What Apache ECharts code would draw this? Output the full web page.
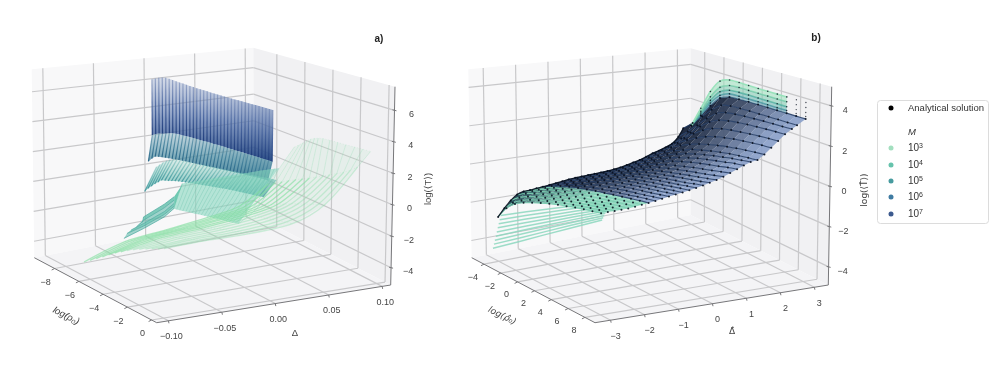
<!DOCTYPE html>
<html><head><meta charset="utf-8">
<style>html,body{margin:0;background:#fff}#c{width:1000px;height:373px;filter:blur(.45px)}</style>
<script src="https://cdn.jsdelivr.net/npm/echarts@6/dist/echarts.min.js"></script></head>
<body><div id="c"></div>
<script>
// ---------- panel a values (axis units) ----------
const aRhoTicks=[-8,-6,-4,-2,0], aDeltaTicks=[-0.10,-0.05,0,0.05,0.10], aTTicks=[-4,-2,0,2,4,6];
const bRhoTicks=[-4,-2,0,2,4,6,8], bDeltaTicks=[-3,-2,-1,0,1,2,3], bTTicks=[-4,-2,0,2,4];
const massExp=['3','4','5','6','7'];
const rhoA=[-9.1,-8.84,-8.58,-8.32,-8.06,-7.8,-7.54,-7.28,-7.02,-6.76,-6.5,-6.24,-5.98,-5.72,-5.46,-5.2,-4.94,-4.68,-4.42,-4.16,-3.9,-3.64,-3.38,-3.12,-2.86,-2.6,-2.34,-2.08,-1.82,-1.56,-1.3,-1.04,-.78,-.52,-.26,0];
const m7Top=[6.18,6.3,6.42,6.5,6.55,6.55,6.54,6.52,6.5,6.5,6.48,6.47,6.46,6.45,6.45,6.44,6.44,6.43,6.43,6.43,6.43,6.43,6.43,6.43,6.43,6.44,6.44,6.44,6.44,6.44,6.45,6.45,6.45,6.45,6.45,6.45];
const m7Bot=[2.26,2.42,2.55,2.62,2.72,2.82,2.9,2.95,2.98,3.0,3.02,3.05,3.07,3.09,3.1,3.12,3.14,3.15,3.16,3.18,3.19,3.2,3.21,3.22,3.23,3.24,3.25,3.26,3.27,3.28,3.29,3.3,3.3,3.31,3.32,3.32];
const m6Bot=[.45,.75,.98,1.06,1.12,1.18,1.23,1.28,1.33,1.38,1.42,1.46,1.49,1.53,1.57,1.6,1.64,1.67,1.71,1.75,1.78,1.82,1.85,1.89,1.92,1.95,1.98,2.01,2.04,2.07,2.1,2.13,2.16,2.19,2.21,2.23];
const m5Bot=[-1.61,-1.3,-1.03,-.78,-.55,-.33,-.25,-.17,-.09,0,.08,.14,.2,.26,.32,.38,.43,.48,.54,.59,.64,.69,.74,.79,.84,.88,.92,.96,1,1.03,1.07,1.1,1.14,1.17,1.21,1.24];
const m5Top=[-.01,.25,.5,.7,.87,1.0,1.06,1.11,1.16,1.2,1.24,1.27,1.31,1.36,1.4,1.44,1.48,1.52,1.56,1.6,1.64,1.68,1.71,1.75,1.79,1.83,1.86,1.9,1.94,1.98,2.01,2.05,2.09,2.13,2.16,2.19];
const rhoM4=[-5.1,-4.86,-4.62,-4.38,-4.14,-3.9,-3.66,-3.42,-3.18,-2.94,-2.7,-2.46,-2.22,-1.98,-1.74,-1.5,-1.26,-1.02,-.78,-.54,-.3,-.06];
const m4Bot=[-1,-.96,-.92,-.88,-.84,-.8,-.76,-.72,-.68,-.64,-.6,-.57,-.54,-.5,-.47,-.43,-.4,-.36,-.33,-.29,-.25,-.21];
const m4Mid=[-.07,-.02,.03,.08,.13,.18,.23,.28,.33,.38,.42,.46,.49,.52,.55,.58,.61,.63,.66,.69,.72,.76];
const m4Top=[.56,.68,.79,.9,1.02,1.13,1.25,1.36,1.47,1.58,1.7,1.81,1.92,2.03,2.14,2.25,2.36,2.47,2.57,2.67,2.77,2.86];
const m4MidD=[-.025,-.0245,-.024,-.0235,-.023,-.0225,-.022,-.0215,-.021,-.0205,-.02,-.0195,-.019,-.018,-.017,-.016,-.015,-.014,-.013,-.012,-.011,-.01];
const m4TopD=[-.022,-.0205,-.019,-.0176,-.0162,-.0148,-.0134,-.012,-.0106,-.0092,-.008,-.0066,-.0052,-.0038,-.0024,-.001,.0004,.0018,.0032,.0046,.006,.007];
const wingStartD=[-.078,-.075,-.071,-.066,-.06], wingD=[-.059,-.039,-.0295];
const wingT=[[-2.41,-1.98,-1.44,-.98],[-2.13,-1.82,-1.28,-.84],[-1.95,-1.66,-1.1,-.66],[-1.81,-1.45,-.85,-.45],[-1.57,-1.24,-.62,-.23]];
const rhoM3=[-6.5,-6,-5.5,-5,-4.5,-4,-3.5,-3,-2.5,-2,-1.5,-1,-.5,0];
const m3D=[-.10,-.06,-.02,.02,.05,.08];
const m3End=[.105,.103,.1,.097,.094,.091,.088,.086,.086,.087,.088,.09,.091,.092];
const m3T=[
[-4.2,-3.35,-3.02,-2.66,-2.28,-.99,1.34],[-3.9,-3.1,-2.78,-2.44,-2.05,-.72,1.7],[-3.6,-2.85,-2.55,-2.2,-1.82,-.45,2.05],
[-3.3,-2.6,-2.32,-1.98,-1.58,-.18,2.4],[-3,-2.36,-2.1,-1.76,-1.35,.08,2.7],[-2.7,-2.14,-1.9,-1.56,-1.12,.32,2.95],
[-2.45,-1.95,-1.72,-1.38,-.9,.56,3.15],[-2.2,-1.77,-1.56,-1.22,-.7,.8,3.3],[-1.98,-1.61,-1.42,-1.08,-.5,1.05,3.35],
[-1.78,-1.47,-1.3,-.97,-.32,1.3,3.35],[-1.6,-1.34,-1.19,-.86,-.15,1.55,3.35],[-1.43,-1.2,-1.08,-.77,.01,1.8,3.35],
[-1.26,-1.07,-.97,-.68,.17,2.1,3.36],[-1.1,-.94,-.87,-.6,.33,2.45,3.36]];
// ---------- panel b values (axis units) ----------
const bRho=[-4,-3,-2,-1,0,1,2,3,4,5,6,7,8];
const bDelta=[-3,-2.8,-2.6,-2.4,-2.2,-2,-1.8,-1.6,-1.4,-1.2,-1,-.8,-.6,-.4,-.2,0,.2,.4,.6,.8,1,1.2,1.4,1.6,1.8,2,2.2,2.4,2.6,2.75,3];
const bT=[
[-2.6,-1.95,-1.55,-1.3,-1.12,-.96,-.82,-.7,-.6,-.5,-.42,-.35,-.28],
[-2.2,-1.72,-1.42,-1.2,-1.04,-.9,-.78,-.67,-.57,-.48,-.4,-.33,-.27],
[-1.85,-1.5,-1.27,-1.1,-.96,-.84,-.73,-.63,-.54,-.46,-.38,-.31,-.25],
[-1.6,-1.35,-1.16,-1.02,-.9,-.79,-.69,-.6,-.51,-.43,-.36,-.29,-.23],
[-1.49,-1.27,-1.1,-.96,-.85,-.74,-.65,-.56,-.48,-.4,-.33,-.26,-.21],
[-1.47,-1.24,-1.06,-.92,-.8,-.7,-.6,-.51,-.43,-.36,-.29,-.22,-.17],
[-1.43,-1.2,-1.02,-.88,-.75,-.65,-.55,-.47,-.39,-.32,-.25,-.17,-.12],
[-1.4,-1.16,-.98,-.83,-.7,-.6,-.5,-.42,-.34,-.26,-.19,-.12,-.07],
[-1.36,-1.12,-.94,-.79,-.66,-.55,-.46,-.37,-.29,-.22,-.14,-.07,-.01],
[-1.32,-1.08,-.89,-.74,-.61,-.49,-.4,-.31,-.23,-.16,-.09,-.01,.05],
[-1.27,-1.03,-.84,-.69,-.55,-.43,-.34,-.25,-.17,-.1,-.03,.05,.12],
[-1.22,-.98,-.8,-.64,-.5,-.38,-.28,-.19,-.11,-.04,.03,.11,.18],
[-1.19,-.95,-.76,-.6,-.46,-.33,-.23,-.14,-.05,.02,.09,.17,.24],
[-1.17,-.93,-.73,-.56,-.42,-.29,-.18,-.09,0,.08,.16,.24,.31],
[-1.15,-.9,-.7,-.52,-.38,-.24,-.13,-.03,.06,.14,.22,.31,.38],
[-1.13,-.87,-.66,-.48,-.33,-.19,-.08,.03,.12,.2,.28,.38,.46],
[-1.11,-.84,-.62,-.43,-.27,-.13,-.01,.09,.2,.29,.37,.46,.56],
[-1.09,-.81,-.58,-.38,-.21,-.06,.06,.18,.28,.38,.47,.56,.66],
[-1.05,-.76,-.52,-.31,-.13,.03,.16,.29,.39,.49,.58,.68,.78],
[-1,-.69,-.44,-.22,-.04,.13,.27,.4,.52,.62,.72,.82,.92],
[-.92,-.6,-.34,-.1,.08,.27,.43,.57,.69,.79,.89,.99,1.07],
[-.83,-.5,-.23,.02,.22,.42,.58,.74,.85,.95,1.05,1.15,1.22],
[-.75,-.38,-.1,.16,.37,.58,.74,.88,1,1.1,1.2,1.28,1.35],
[-.62,-.25,.05,.32,.54,.76,.9,1.03,1.14,1.23,1.3,1.36,1.41],
[-.48,-.08,.25,.55,.8,1,1.15,1.28,1.38,1.47,1.54,1.6,1.65],
[-.38,.05,.45,.8,1.1,1.35,1.52,1.64,1.74,1.81,1.87,1.92,1.95],
[-.25,.22,.68,1.1,1.48,1.74,1.9,2,2.07,2.13,2.18,2.22,2.25],
[-.1,.4,.92,1.45,1.88,2.15,2.28,2.36,2.42,2.46,2.5,2.53,2.55],
[.25,.75,1.3,1.85,2.3,2.52,2.6,2.65,2.69,2.72,2.74,2.76,2.78],
[.7,1.2,1.75,2.3,2.72,2.85,2.88,2.9,2.91,2.92,2.93,2.94,2.95],
[.8,1.55,2.3,2.9,3.12,3.17,3.19,3.2,3.21,3.21,3.22,3.22,3.23]];
const bTopT=[
[.8,1.6,2.45,3.05,3.3,3.33,3.34,3.35,3.35,3.35,3.35],
[.8,1.7,2.6,3.25,3.5,3.54,3.55,3.55,3.55,3.55,3.55],
[.8,1.8,2.8,3.5,3.76,3.8,3.8,3.8,3.8,3.8,3.8],
[.8,1.97,3.1,3.84,4.06,4.07,4.06,4.05,4.05,4.05,4.05]];
const bTopDots=[3.35,3.55,3.8,4.05];
const bLowD=[-3.2,-2.4,-1.6,-.8,.2];
const bLowRho=[-3.9,-3.78,-3.66,-3.54,-3.42,-3.3,-3.18,-3.06,-2.94];
const bLowT=[
[-4.14,-4.04,-3.93,-3.82,-3.69],[-3.9,-3.82,-3.73,-3.64,-3.54],[-3.67,-3.6,-3.53,-3.46,-3.39],
[-3.44,-3.38,-3.33,-3.28,-3.24],[-3.2,-3.16,-3.13,-3.1,-3.09],[-2.96,-2.94,-2.93,-2.92,-2.94],
[-2.73,-2.72,-2.73,-2.74,-2.79],[-2.5,-2.5,-2.53,-2.56,-2.64],[-2.26,-2.28,-2.33,-2.38,-2.49]];

// ---------- panel geometry ----------
const panelA={L:[34.3,257.7],F:[156.7,322.7],R:[390.7,285],B:[254,215],Lt:[31.7,69.3],Ft:[159.3,101.7],Rt:[395,86.7],Bt:[253.3,47.7],
 rho:[-9.68,.42],d:[-.111,.108],z:[-5.1,7.5],rt:aRhoTicks,dt:aDeltaTicks,zt:aTTicks,dFmt:v=>v.toFixed(2),rOff:[-9,14],dOff:[3,16],zOff:[17,4]};
const panelB={L:[471.7,257.7],F:[595,322.7],R:[828.3,285],B:[690.7,215],Lt:[468.3,69.3],Ft:[596.7,101.7],Rt:[831.7,86.7],Bt:[690.7,48.3],
 rho:[-5.46,9.2],d:[-3.46,3.41],z:[-4.9,4.95],rt:bRhoTicks,dt:bDeltaTicks,zt:bTTicks,dFmt:v=>String(v),rOff:[-11,13],dOff:[5,16],zOff:[14,5]};
function proj(P,r,d,z){
 const u=(r-P.rho[0])/(P.rho[1]-P.rho[0]),v=(d-P.d[0])/(P.d[1]-P.d[0]),w=(z-P.z[0])/(P.z[1]-P.z[0]);
 const b=(a,c,e,f,i)=>a[i]*(1-u)*(1-v)+c[i]*u*(1-v)+e[i]*u*v+f[i]*(1-u)*v;
 return [0,1].map(i=>b(P.L,P.F,P.R,P.B,i)*(1-w)+b(P.Lt,P.Ft,P.Rt,P.Bt,i)*w);
}
const grad=(...c)=>new echarts.graphic.LinearGradient(0,0,0,1,c.map((col,i)=>({offset:i/(c.length-1),color:col})));
const series=[];
function add(name,prims){
 series.push({type:'custom',name,coordinateSystem:'cartesian2d',silent:true,animation:false,clip:false,progressive:0,
  encode:{x:0,y:1},data:prims.map(p=>[p.pts[0][0],p.pts[0][1]]),
  renderItem:(params,api)=>{const p=prims[params.dataIndex],q=p.pts.map(a=>api.coord(a));
   if(p.t==='dot')return{type:'circle',shape:{cx:q[0][0],cy:q[0][1],r:p.r},style:{fill:p.c},silent:true};
   if(p.t==='poly')return{type:'polygon',shape:{points:q},style:{fill:p.c,stroke:null},silent:true};
   return{type:'polyline',shape:{points:q,smooth:p.s||0},style:{stroke:p.c,lineWidth:p.w||1,fill:null,lineDash:p.dash||null},silent:true};}});
}
function frame(P,name){
 const [r0,r1]=P.rho,[d0,d1]=P.d,[z0,z1]=P.z,pr=[];
 const poly=(a,c)=>pr.push({t:'poly',pts:a,c});
 const g='#c8c8ca',line=(a,b,c=g,w=1.2)=>pr.push({t:'line',pts:[a,b],c,w});
 poly([P.L,P.B,P.Bt,P.Lt],'#f8f8f9');poly([P.B,P.R,P.Rt,P.Bt],'#f1f1f3');poly([P.L,P.F,P.R,P.B],'#f4f4f6');
 P.rt.forEach(r=>{line(proj(P,r,d0,z0),proj(P,r,d1,z0));line(proj(P,r,d1,z0),proj(P,r,d1,z1));});
 P.dt.forEach(d=>{line(proj(P,r0,d,z0),proj(P,r1,d,z0));line(proj(P,r0,d,z0),proj(P,r0,d,z1));});
 P.zt.forEach(z=>{line(proj(P,r0,d0,z),proj(P,r0,d1,z));line(proj(P,r0,d1,z),proj(P,r1,d1,z));});
 const ax='#77777a';
 line(P.L,P.F,ax,1);line(P.F,P.R,ax,1);line(P.R,P.Rt,ax,1);
 P.rt.forEach(r=>{const a=proj(P,r,d0,z0);line(a,[a[0]-3,a[1]+1.5],ax,1);});
 P.dt.forEach(d=>{const a=proj(P,r1,d,z0);line(a,[a[0]+.5,a[1]+2.5],ax,1);});
 P.zt.forEach(z=>{const a=proj(P,r1,d1,z);line([a[0]-2,a[1]-.5],[a[0]+2,a[1]+.5],ax,1);});
 add(name,pr);
 const lab=[];
 const num=v=>String(v).replace('-','\u2212');
 P.rt.forEach(r=>{const a=proj(P,r,d0,z0);lab.push([a[0]+P.rOff[0],a[1]+P.rOff[1],num(r)]);});
 P.dt.forEach(d=>{const a=proj(P,r1,d,z0);lab.push([a[0]+P.dOff[0],a[1]+P.dOff[1],num(P.dFmt(d))]);});
 P.zt.forEach(z=>{const a=proj(P,r1,d1,z);lab.push([a[0]+P.zOff[0],a[1]+P.zOff[1],num(z)]);});
 series.push({type:'custom',name:name+' ticks',coordinateSystem:'cartesian2d',silent:true,animation:false,clip:false,progressive:0,z:5,
  encode:{x:0,y:1},data:lab,renderItem:(params,api)=>{const i=params.dataIndex,c=api.coord([lab[i][0],lab[i][1]]);
   return{type:'text',x:c[0],y:c[1],style:{text:lab[i][2],fontSize:9,fontFamily:'Liberation Sans',fill:'#444',align:'center',verticalAlign:'middle'},silent:true};}});
}
function sheet(name,rhos,dBot,dTop,botT,topT,fill,st){
 const P=panelA,pr=[],up=rhos.map((r,i)=>proj(P,r,dTop,topT[i])),lo=rhos.map((r,i)=>proj(P,r,dBot,botT[i]));
 pr.push({t:'poly',pts:up.concat(lo.slice().reverse()),c:grad(...fill)});
 rhos.forEach((r,i)=>pr.push({t:'line',pts:[up[i],lo[i]],c:grad(...st),w:1.2}));
 add(name,pr);
}
frame(panelA,'panel a frame');frame(panelB,'panel b frame');

// ---- panel a sheets
sheet('M=1e7',rhoA,0,0,m7Bot,m7Top,['rgba(135,155,195,.32)','rgba(85,115,170,.7)','rgba(35,70,130,.97)'],['rgba(115,135,180,.55)','rgba(65,95,155,.85)','rgba(28,58,120,1)']);
sheet('M=1e6',rhoA,-.004,0,m6Bot,m7Bot,['rgba(125,170,188,.45)','rgba(75,140,160,.7)','rgba(50,118,145,.9)'],['rgba(80,135,160,.6)','rgba(55,120,150,.8)','rgba(35,95,130,1)']);
sheet('M=1e5',rhoA,-.008,.004,m5Bot,m5Top,['rgba(150,210,195,.3)','rgba(110,190,180,.6)','rgba(70,165,165,.75)'],['rgba(90,175,170,.35)','rgba(70,160,160,.6)','rgba(50,140,150,.9)']);
(function(){const P=panelA,pr=[];
 const a=rhoM4.map((r,i)=>proj(P,r,m4TopD[i],m4Top[i])),m=rhoM4.map((r,i)=>proj(P,r,m4MidD[i],m4Mid[i])),b=rhoM4.map((r,i)=>proj(P,r,-.03,m4Bot[i]));
 pr.push({t:'poly',pts:a.concat(b.slice().reverse()),c:'rgba(135,215,190,.6)'});
 rhoM4.forEach((r,i)=>pr.push({t:'line',pts:[b[i],m[i],a[i]],c:'rgba(95,190,165,.3)',w:1,s:.3}));
 const wr=rhoM4[0],tine=wingT.map((row,k)=>[proj(P,wr,wingStartD[k],row[0])].concat(wingD.map((d,j)=>proj(P,wr,d,row[j+1]))));
 for(let k=0;k<4;k++)pr.push({t:'poly',pts:tine[k].concat(tine[k+1].slice().reverse()),c:k%2?'rgba(95,190,170,.8)':'rgba(85,180,165,.55)'});
 tine.forEach(t=>pr.push({t:'line',pts:t,c:'rgba(75,170,160,.7)',w:1}));
 pr.push({t:'poly',pts:[tine[0][3],tine[4][3],proj(P,wr,-.021,.55),proj(P,wr,-.025,-.07)],c:'rgba(95,195,170,.9)'});
 add('M=1e4',pr);})();
(function(){const P=panelA,pr=[];
 const D=i=>m3D.concat([m3End[i]]);
 const pt=rhoM3.map((r,i)=>D(i).map((d,j)=>proj(P,r,d,m3T[i][j])));
 for(let i=0;i<13;i++)for(let j=0;j<6;j++)pr.push({t:'poly',pts:[pt[i][j],pt[i+1][j],pt[i+1][j+1],pt[i][j+1]],c:'rgba(170,228,190,.17)'});
 pt.forEach((a,i)=>{pr.push({t:'line',pts:a.slice(0,6),c:i<7?'rgba(130,222,160,.62)':'rgba(135,220,165,.38)',w:1.3,s:.3});pr.push({t:'line',pts:a.slice(5),c:'rgba(135,220,170,.25)',w:1,s:.3});});
 for(let j=1;j<7;j++)pr.push({t:'line',pts:pt.map(a=>a[j]),c:'rgba(130,215,165,.18)',w:1,dash:[1,2]});
 add('M=1e3',pr);})();

// ---- panel b
(function(){const P=panelB,pr=[];
 bLowT.forEach((row,k)=>pr.push({t:'line',pts:row.map((t,j)=>proj(P,bLowRho[k],bLowD[j],t)),c:'rgba(140,215,190,.85)',w:1.5}));
 add('low M strands',pr);})();
(function(){const P=panelB,pr=[],dots=[];
 const pt=bDelta.map((d,i)=>bRho.map((r,j)=>proj(P,r,d,bT[i][j])));
 const navy=[20,32,55],pale=[140,162,202],teal=[30,75,85],tealP=[140,215,190];
 const mix=(a,b,f,al)=>'rgba('+a.map((x,i)=>Math.round(x+(b[i]-x)*f)).join(',')+','+al+')';
 for(let i=0;i<bDelta.length-1;i++)for(let j=0;j<bRho.length-1;j++){
  const f=Math.min(1,Math.max(0,(j-2.5)/8)),lowM=i<7;
  pr.push({t:'poly',pts:[pt[i][j],pt[i+1][j],pt[i+1][j+1],pt[i][j+1]],c:lowM?mix(teal,tealP,Math.min(1,(j-.5)/6),.9):mix(navy,pale,f,.94)});
 }
 pt.forEach((a,i)=>pr.push({t:'line',pts:a,c:i<7?'rgba(120,205,175,.9)':'rgba(35,60,100,.85)',w:1.1,s:.2}));
 pr.push({t:'line',pts:pt.slice(0,30).map(a=>a[0]),c:'rgba(5,15,30,.9)',w:1.3,s:.25});
 pt.forEach(a=>a.forEach(q=>dots.push({t:'dot',pts:[q],r:1,c:'rgba(8,15,30,.9)'})));
 add('M=1e7 scaled',pr);
 const top=[],cols=['rgba(80,150,165,.9)','rgba(85,175,165,.9)','rgba(115,200,170,.9)','rgba(150,225,185,.95)'];
 bTopT.forEach((row,k)=>{const a=row.map((t,j)=>proj(P,bRho[j],3,t));
  const below=k?bTopT[k-1].map((t,j)=>proj(P,bRho[j],3,t)):bT[bDelta.length-1].slice(0,11).map((t,j)=>proj(P,bRho[j],3,t));
  top.push({t:'poly',pts:a.concat(below.slice().reverse()),c:cols[k].replace(/[\d.]+\)$/,'.5)')});
  top.push({t:'line',pts:a,c:cols[k],w:1.6,s:.25});
  a.forEach(q=>dots.push({t:'dot',pts:[q],r:.8,c:'rgba(8,15,30,.8)'}));
  [7,8].forEach(r=>dots.push({t:'dot',pts:[proj(P,r,3,bTopDots[k])],r:.7,c:'rgba(8,15,30,.75)'}));
 });
 add('low M top',top);add('Analytical solution',dots);})();

const F='Liberation Sans, DejaVu Sans';
const txt=(s,x,y,o={})=>({type:'text',x,y,rotation:(o.rot||0)*Math.PI/180,style:Object.assign({text:s,fontSize:9.5,fontFamily:F,fill:'#444',align:'center',verticalAlign:'middle'},o.st||{}),silent:true});
const legendY=[148,165,181,197,214],legendC=['#a3dfbf','#66c3ac','#479b9f','#3f7ba2','#3c5a8e'];
const DJ={fontFamily:'DejaVu Sans',fontSize:9};
const graphic=[
 txt('a)',379,39,{st:{fontWeight:'bold',fill:'#222',fontSize:10}}),txt('b)',816,38,{st:{fontWeight:'bold',fill:'#222',fontSize:10}}),
 txt('log(ρ₀)',66,316,{rot:-27,st:{fontStyle:'italic'}}),txt('Δ',295,333),txt('log(⟨T⟩)',428,189,{rot:90}),
 txt('log(ρ̂₀)',502,316,{rot:-27,st:Object.assign({fontStyle:'italic'},DJ)}),txt('Δ̂',732,332,{st:DJ}),txt('log(⟨T̂⟩)',865,190,{rot:90,st:DJ}),
 {type:'rect',shape:{x:877.5,y:100.5,width:111,height:123,r:3},style:{fill:'#fff',stroke:'#dcdcdc',lineWidth:1},silent:true},
 {type:'circle',shape:{cx:891,cy:108,r:2.5},style:{fill:'#000'},silent:true},
 txt('Analytical solution',908,108,{st:{align:'left',fontSize:9.5,fill:'#333'}}),
 txt('M',908,132,{st:{align:'left',fontSize:9.5,fontStyle:'italic',fill:'#333'}})
];
massExp.forEach((m,i)=>{graphic.push({type:'circle',shape:{cx:891,cy:legendY[i],r:2.5},style:{fill:legendC[i]},silent:true});
 graphic.push(txt('10{s|'+m+'}',908,legendY[i],{st:{align:'left',fontSize:10,fill:'#333',rich:{s:{fontSize:7,fontFamily:'Liberation Sans',fill:'#333',verticalAlign:'bottom',padding:[0,0,4,0]}}}}));});

const chart=echarts.init(document.getElementById('c'),null,{renderer:'canvas'});
chart.setOption({animation:false,backgroundColor:'#fff',
 grid:{left:0,right:0,top:0,bottom:0},
 xAxis:{type:'value',min:0,max:1000,show:false},yAxis:{type:'value',min:0,max:373,inverse:true,show:false},
 graphic:{elements:graphic},series});
</script></body></html>
